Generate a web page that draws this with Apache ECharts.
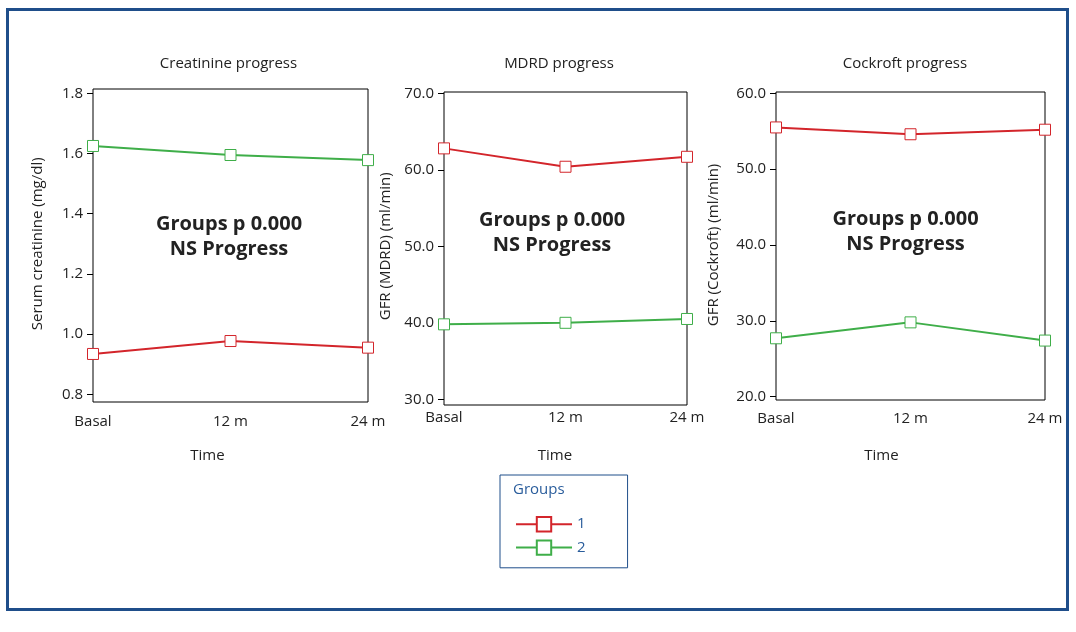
<!DOCTYPE html>
<html>
<head>
<meta charset="utf-8">
<script src="https://cdn.jsdelivr.net/npm/echarts@6/dist/echarts.min.js"></script>
<style>
html,body{margin:0;padding:0;background:#fff;}
#chart{width:1076px;height:632px;}
</style>
</head>
<body>
<div id="chart"></div>
<script>
// ---- data ----
const categories = ['Basal', '12 m', '24 m'];
const creatGroup1 = [0.934, 0.977, 0.955];
const creatGroup2 = [1.625, 1.595, 1.578];
const mdrdGroup1 = [62.8, 60.4, 61.7];
const mdrdGroup2 = [39.8, 40.0, 40.5];
const cockGroup1 = [55.5, 54.6, 55.2];
const cockGroup2 = [27.7, 29.8, 27.4];
const panelTitles = ['Creatinine progress', 'MDRD progress', 'Cockroft progress'];
const yNames = ['Serum creatinine (mg/dl)', 'GFR (MDRD) (ml/min)', 'GFR (Cockroft) (ml/min)'];
const annotation = 'Groups p 0.000\nNS Progress';
const groupNames = ['1', '2'];

// ---- style ----
const FONT = 'Open Sans';
const RED = '#d3252b';
const GREEN = '#3fae49';
const TXT = '#222';
const BLUE = '#1f4e8a';

const chart = echarts.init(document.getElementById('chart'));

// axis grids (where data lives) and frame grids (box outline)
const axisGrids = [
  {left: 93, top: 93.3, width: 275, height: 301},
  {left: 444, top: 93.3, width: 243, height: 306},
  {left: 776, top: 93.3, width: 269, height: 303.4}
];
const frameGrids = [
  {left: 93, top: 89, width: 275, height: 313},
  {left: 444, top: 92, width: 243, height: 313},
  {left: 776, top: 92, width: 269, height: 308}
];
const yRanges = [
  {min: 0.8, max: 1.8, interval: 0.2, dec: 1},
  {min: 30, max: 70, interval: 10, dec: 1},
  {min: 20, max: 60, interval: 10, dec: 1}
];
const xLabelMargins = [20, 11, 15];
const xNameGaps = [54, 49, 52];
const xNamePadRight = [46, 21, 58];
const yNameGaps = [48, 51, 55];
const titleX = [223.5, 554, 900];
const annX = [224, 547, 900.5];
const annTop = [207, 203, 202];
const seriesData = [[creatGroup1, creatGroup2], [mdrdGroup1, mdrdGroup2], [cockGroup1, cockGroup2]];

const grid = [];
const xAxis = [];
const yAxis = [];
const series = [];
const title = [];

for (let i = 0; i < 3; i++) {
  grid.push(Object.assign({containLabel: false, show: false}, axisGrids[i]));
}
for (let i = 0; i < 3; i++) {
  grid.push(Object.assign({containLabel: false, show: true, borderColor: '#000', borderWidth: 1, backgroundColor: 'transparent'}, frameGrids[i]));
}

for (let i = 0; i < 3; i++) {
  xAxis.push({
    gridIndex: i,
    type: 'category',
    data: categories,
    boundaryGap: false,
    axisLine: {show: false},
    axisTick: {show: false},
    splitLine: {show: false},
    axisLabel: {color: TXT, fontFamily: FONT, fontSize: 15, margin: xLabelMargins[i]},
    name: 'Time',
    nameLocation: 'middle',
    nameGap: xNameGaps[i],
    nameTextStyle: {color: TXT, fontFamily: FONT, fontSize: 15, padding: [0, xNamePadRight[i], 0, 0]}
  });
  const r = yRanges[i];
  yAxis.push({
    gridIndex: i,
    type: 'value',
    min: r.min,
    max: r.max,
    interval: r.interval,
    axisLine: {show: false},
    axisTick: {show: true, length: 6, lineStyle: {color: '#000', width: 1}},
    splitLine: {show: false},
    axisLabel: {color: TXT, fontFamily: FONT, fontSize: 15, margin: 10,
      formatter: (v) => v.toFixed(r.dec)},
    name: yNames[i],
    nameLocation: 'middle',
    nameGap: yNameGaps[i],
    nameRotate: 90,
    nameTextStyle: {color: TXT, fontFamily: FONT, fontSize: 15}
  });
}
for (let i = 0; i < 3; i++) {
  xAxis.push({gridIndex: 3 + i, type: 'value', show: false, min: 0, max: 1});
  yAxis.push({gridIndex: 3 + i, type: 'value', show: false, min: 0, max: 1});
}

for (let i = 0; i < 3; i++) {
  [RED, GREEN].forEach((c, g) => {
    series.push({
      name: groupNames[g],
      type: 'line',
      xAxisIndex: i,
      yAxisIndex: i,
      data: seriesData[i][g],
      symbol: 'rect',
      symbolSize: 11,
      showAllSymbol: true,
      lineStyle: {color: c, width: 2},
      itemStyle: {color: '#fff', borderColor: c, borderWidth: 1},
      emphasis: {disabled: true},
      animation: false,
      z: 3
    });
  });
  title.push({
    text: panelTitles[i],
    left: titleX[i],
    top: 51,
    textAlign: 'center',
    textStyle: {color: TXT, fontFamily: FONT, fontSize: 15, fontWeight: 'normal'}
  });
  title.push({
    text: annotation,
    left: annX[i],
    top: annTop[i],
    textAlign: 'center',
    textStyle: {color: TXT, fontFamily: FONT, fontSize: 20, fontWeight: 'bold', lineHeight: 25}
  });
}
title.push({
  text: 'Groups',
  left: 508,
  top: 477,
  textStyle: {color: '#2a5d9c', fontFamily: FONT, fontSize: 15, fontWeight: 'normal'}
});

const option = {
  backgroundColor: '#fff',
  animation: false,
  title: title,
  grid: grid,
  xAxis: xAxis,
  yAxis: yAxis,
  series: series,
  legend: {
    data: groupNames,
    orient: 'vertical',
    left: 500,
    top: 475,
    padding: [41, 42, 12, 15],
    itemWidth: 56,
    itemHeight: 18,
    itemGap: 7,
    borderColor: BLUE,
    borderWidth: 1,
    selectedMode: false,
    textStyle: {color: '#2a5d9c', fontFamily: FONT, fontSize: 15}
  },
  graphic: [{
    type: 'rect',
    shape: {x: 7.5, y: 9.5, width: 1060, height: 600},
    style: {fill: 'none', stroke: BLUE, lineWidth: 3},
    silent: true,
    z: 100
  }]
};
chart.setOption(option);
</script>
</body>
</html>
